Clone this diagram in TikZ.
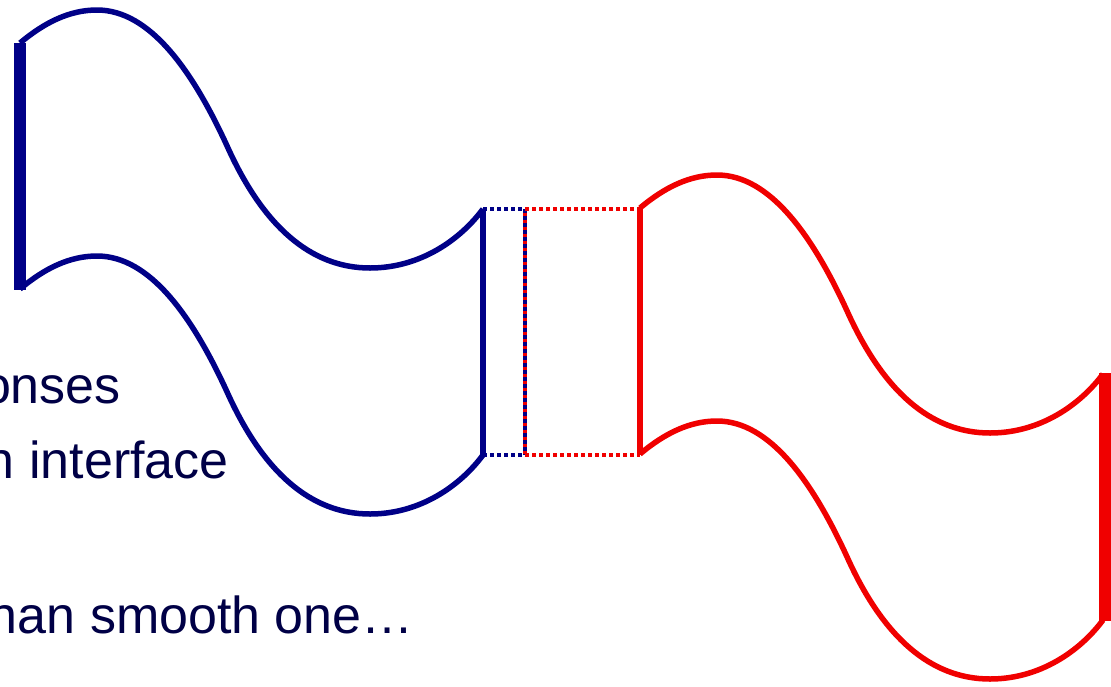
\documentclass[tikz,border=0pt]{standalone}
\usepackage{fontspec}
\setmainfont{Liberation Sans}
\definecolor{wavenavy}{RGB}{0,0,135}
\definecolor{wavered}{RGB}{240,0,0}
\definecolor{textnavy}{RGB}{0,0,70}
\begin{document}
\begin{tikzpicture}[x=1pt,y=-1pt,
  wave/.style={line width=5.5pt, line join=round},
  edge/.style={line width=12.5pt},
  dots/.style={line width=3.5pt, dash pattern=on 3.5pt off 3.5pt},
  words/.style={anchor=base east, inner sep=0pt, text=textnavy, font=\fontsize{52}{62}\selectfont}]
\clip (0,0) rectangle (1111,686);
\draw[wave, wavenavy] (20,43) .. controls (45,22) and (70,10) .. (97,10) .. controls (150,10) and (193,71) .. (228,148) .. controls (263,225) and (310,268) .. (370,268) .. controls (420,268) and (460,240) .. (483,209);
\draw[wave, wavenavy, shift={(0,246)}] (20,43) .. controls (45,22) and (70,10) .. (97,10) .. controls (150,10) and (193,71) .. (228,148) .. controls (263,225) and (310,268) .. (370,268) .. controls (420,268) and (460,240) .. (483,209);
\draw[edge, wavenavy] (20,43)--(20,290);
\draw[wave, wavenavy] (483,209)--(483,455);
\draw[dots, wavenavy] (483,209)--(525,209);
\draw[dots, wavenavy] (483,455)--(525,455);
\draw[dots, wavenavy] (525,209)--(525,455);
\draw[dots, wavered, dash phase=3.5pt] (525,209)--(525,455);
\draw[dots, wavered] (525,209)--(640,209);
\draw[dots, wavered] (525,455)--(640,455);
\draw[wave, wavered, shift={(620,165)}] (20,43) .. controls (45,22) and (70,10) .. (97,10) .. controls (150,10) and (193,71) .. (228,148) .. controls (263,225) and (310,268) .. (370,268) .. controls (420,268) and (460,240) .. (483,209);
\draw[wave, wavered, shift={(620,411)}] (20,43) .. controls (45,22) and (70,10) .. (97,10) .. controls (150,10) and (193,71) .. (228,148) .. controls (263,225) and (310,268) .. (370,268) .. controls (420,268) and (460,240) .. (483,209);
\draw[wave, wavered] (640,208)--(640,455);
\draw[edge, wavered] (1105,373)--(1105,621);
\node[words] (line1) at (121,403) {onses};
\node[words] (line2) at (229,478) {n interface};
\node[words] (line3) at (414,633) {han smooth one…};
\end{tikzpicture}
\end{document}
